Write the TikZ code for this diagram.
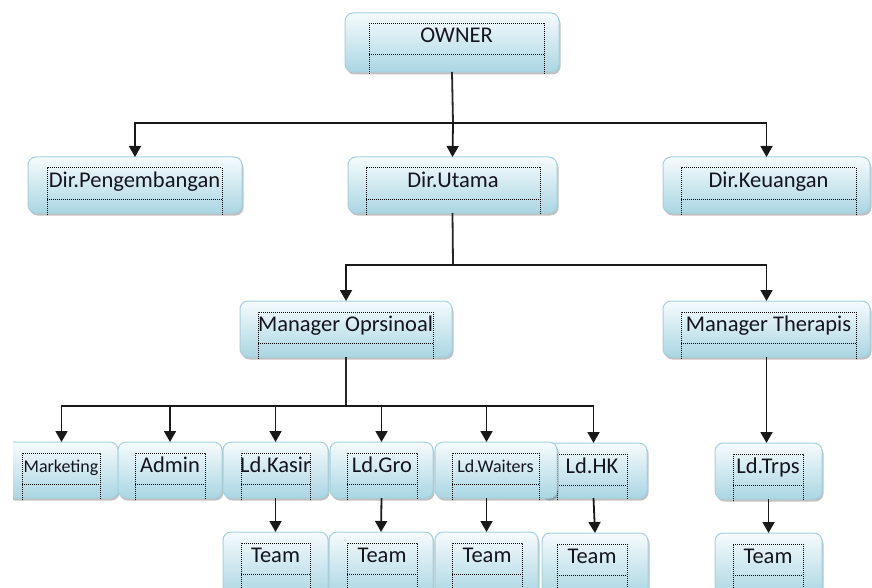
\documentclass[tikz,border=0pt]{standalone}
\usepackage{fontspec}
\setmainfont{Carlito}
\usetikzlibrary{arrows.meta,shadows,calc}
\definecolor{boxline}{HTML}{A3D2E0}
\definecolor{boxtop}{HTML}{F6FBFD}
\definecolor{boxbot}{HTML}{AAD6E3}
\definecolor{txt}{HTML}{141420}
\tikzset{
  orgbox/.style={draw=boxline, line width=1pt, rounded corners=8pt,
    top color=boxtop, bottom color=boxbot, inner sep=0pt, outer sep=0pt,
    drop shadow={shadow xshift=1.5pt, shadow yshift=-2.5pt, opacity=0.4, fill=black!60}},
  dotline/.style={draw=black, line width=1pt, dash pattern=on 1pt off 1pt},
  bigtxt/.style={font=\fontsize{22.5}{26}\selectfont, text=txt, inner sep=0pt, anchor=base},
  smalltxt/.style={font=\fontsize{18}{21}\selectfont, text=txt, inner sep=0pt, anchor=base},
  arr/.style={draw=black!90, line width=1.8pt, -{Triangle[width=12pt,length=11pt]}},
  bar/.style={draw=black!85, line width=1.8pt}
}
% name, xl, xr, top, bottom, dotted xl, dotted xr, text style, text
\newcommand\obox[9]{%
  \node[orgbox, minimum width={(#3-#2)*1pt}, minimum height={(#5-#4)*1pt}, anchor=north west] (#1) at (#2,#4) {};
  \draw[dotline] (#6,#5+2) -- (#6,#4+11) -- (#7,#4+11) -- (#7,#5+2);
  \draw[dotline] (#6,#4+42) -- (#7,#4+42);
  \node[#8] (#1t) at ({(#6+#7)/2},#4+30) {#9};
}
\begin{document}
\begin{tikzpicture}[x=1pt,y=-1pt]
\useasboundingbox (0,0) rectangle (872,588);
\clip (0,0) rectangle (872,588);
\fill[white] (0,0) rectangle (872,588);

% level 1
\obox{owner}{345}{559}{13}{72}{369}{544}{bigtxt}{OWNER}
% level 2
\obox{dpeng}{28}{242}{157}{213}{47}{222}{bigtxt}{Dir.Pengembangan}
\obox{dut}{348}{557}{157}{213}{366}{540}{bigtxt}{Dir.Utama}
\obox{dkeu}{663}{870}{157}{213}{681}{856}{bigtxt}{Dir.Keuangan}
% level 3
\obox{mops}{240}{452}{301}{357}{258}{433}{bigtxt}{Manager Oprsinoal}
\obox{mther}{663}{870}{301}{357}{681}{856}{bigtxt}{Manager Therapis}
% level 4
\begin{scope}
\clip (13,400) rectangle (200,520);
\obox{mkt}{5}{118}{442}{498}{22}{100}{smalltxt}{Marketing}
\end{scope}
\obox{adm}{118}{222}{442}{498}{135}{205}{bigtxt}{Admin}
\obox{kas}{223}{328}{442}{498}{241}{310}{bigtxt}{Ld.Kasir}
\obox{gro}{330}{433}{442}{498}{347}{417}{bigtxt}{Ld.Gro}
\obox{hk}{540}{647}{443}{498}{557}{627}{bigtxt}{Ld.HK}
\obox{wait}{435}{557}{442}{498}{452}{539}{smalltxt}{Ld.Waiters}
\obox{trps}{715}{822}{443}{499}{733}{803}{bigtxt}{Ld.Trps}
% level 5
\obox{team1}{223}{328}{532}{596}{241}{310}{bigtxt}{Team}
\obox{team2}{329}{433}{532}{596}{347}{417}{bigtxt}{Team}
\obox{team3}{435}{538}{532}{596}{452}{522}{bigtxt}{Team}
\obox{team4}{542}{648}{533}{596}{557}{627}{bigtxt}{Team}
\obox{team5}{715}{822}{533}{596}{733}{803}{bigtxt}{Team}

% connectors
\coordinate (b1) at (453,123);
\coordinate (b2) at (453,265);
\coordinate (b3) at (346,406);
\draw[bar] (owner.south) -- (b1);
\draw[arr] (b1) -| (dpeng.north);
\draw[arr] (b1) -| (dkeu.north);
\draw[arr] (b1) -- (dut.north);

\draw[bar] (dut.south) -- (b2);
\draw[arr] (b2) -| (mops.north);
\draw[arr] (b2) -| (mther.north);

\draw[bar] (mops.south) -- (b3);
\draw[arr] (b3) -| (mkt.north);
\draw[arr] (b3) -| (adm.north);
\draw[arr] (b3) -| (kas.north);
\draw[arr] (b3) -| (gro.north);
\draw[arr] (b3) -| (team3.north |- wait.north);
\draw[arr] (b3) -| (hk.north);

\draw[arr] (mther.south) -- (mther.south |- trps.north);
\draw[arr] (kas.south) -- (team1.north);
\draw[arr] (gro.south) -- (team2.north);
\draw[arr] (team3.north |- wait.south) -- (team3.north);
\draw[arr] (hk.south) -- (team4.north);
\draw[arr] (trps.south) -- (trps.south |- team5.north);
\end{tikzpicture}
\end{document}
